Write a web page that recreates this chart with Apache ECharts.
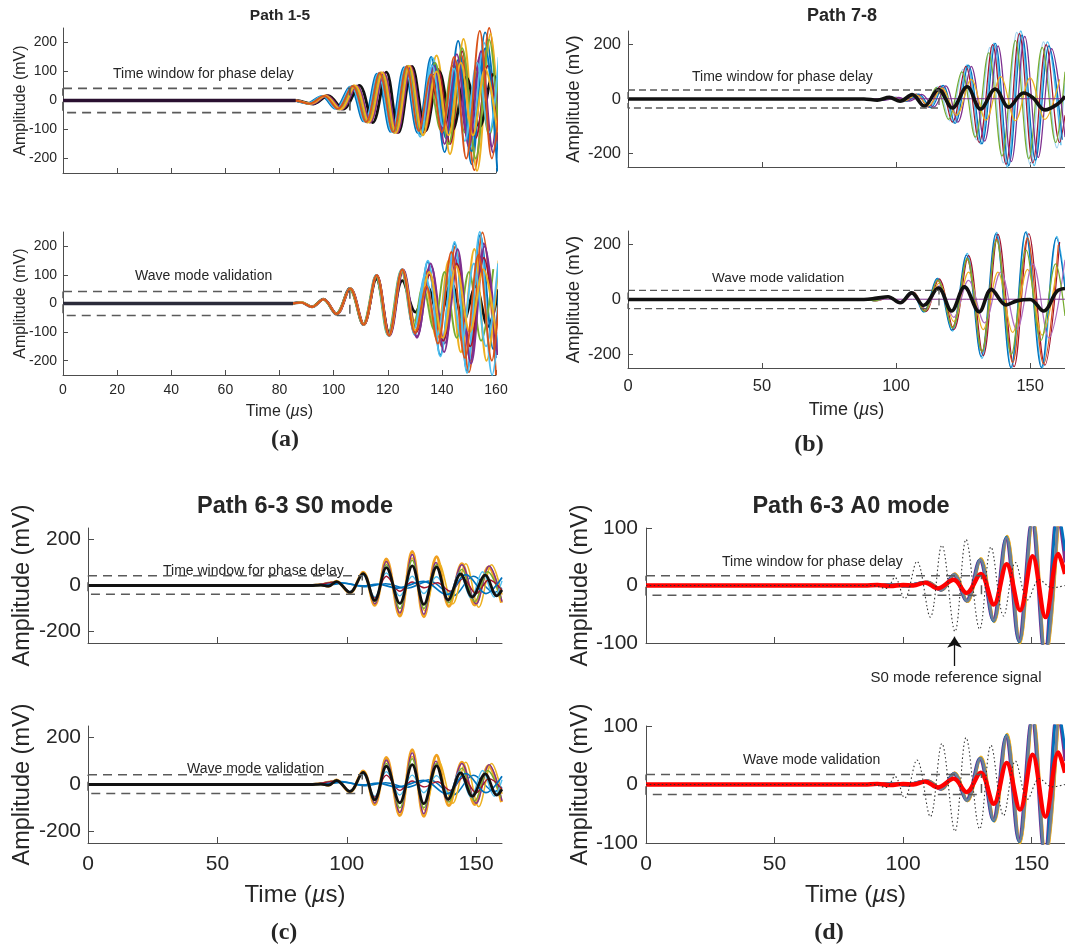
<!DOCTYPE html>
<html><head><meta charset="utf-8">
<script src="https://cdn.jsdelivr.net/npm/echarts@6/dist/echarts.min.js"></script>
<style>html,body{margin:0;padding:0;background:#fff}#c{width:1065px;height:949px}</style>
</head><body><div id="c"></div>
<script>
// ---------- tick values ----------
const xTicksA = [0,20,40,60,80,100,120,140,160];
const xTicksB = [0,50,100,150];
const yTicksA = [-200,-100,0,100,200];
const yTicksB = [-200,0,200];
const yTicksD = [-100,0,100];

// ---------- (a) Path 1-5, top: time window for phase delay ----------
const aT_base = [[0,0],[86,0]];
const aT_black = [[0,0],[86,0],[92.5,-12],[98,17],[103.5,-30],[109.5,52],[114.5,-76],[119.5,98],[124,-110],[129,118],[134,-104],[139,100],[144,-100],[149,80],[154,-90],[159,90],[161,40]];
const aT_blue = [[0,0],[85,0],[90,-10],[95.5,15],[100.5,-28],[106,48],[111,-72],[116,92],[121,-108],[126,115],[131,-112],[136,150],[141,-178],[146,205],[151,-220],[156,235],[161,-200]];
const aT_orange = [[0,0],[85.5,0],[91,-11],[96.5,16],[101.5,-30],[107,50],[112,-75],[117,96],[122,-110],[127,118],[132,-115],[137.5,120],[142,-110],[147,160],[152,-240],[157.5,250],[161,-150]];
const aT_yellow = [[0,0],[86,0],[91.5,-12],[97,17],[102,-30],[107.5,52],[112.5,-76],[117.5,97],[122.5,-112],[127.5,120],[132.5,-118],[138,155],[143,-185],[148,212],[153,-242],[158,230],[161,-100]];
const aT_purple = [[0,0],[86,0],[92,-12],[97.5,16],[102.5,-30],[108,50],[113,-74],[118,95],[123,-110],[128,116],[133,-100],[137,90],[141,-95],[145,110],[149.5,-130],[154,150],[158.5,-160],[161,60]];
const aT_green = [[0,0],[86,0],[91,-11],[96.5,16],[102,-30],[107.5,50],[112.5,-74],[117.5,94],[122.5,-108],[127.5,112],[132,-90],[135.5,60],[139.5,-100],[144,120],[148.5,-110],[153,100],[157.5,-120],[161,100]];
const aT_cyan = [[0,0],[85,0],[90.5,-10],[96,16],[101,-29],[106.5,49],[111.5,-73],[116.5,93],[121.5,-108],[126.5,114],[131.5,-110],[136.5,148],[141.5,-120],[146,100],[150.5,-160],[155.5,200],[160,-170]];
const aT_red = [[0,0],[86,0],[92,-12],[97.5,17],[103,-30],[108.5,51],[113.5,-76],[118.5,97],[123.5,-112],[128.5,118],[133.5,-112],[138.5,110],[143,-150],[147.5,170],[152.5,-130],[157,120],[161,-140]];
const aT_blue2 = [[0,0],[85,0],[91,-11],[96.5,16],[101.5,-29],[107,49],[112,-73],[117,94],[122,-108],[127,116],[132,-116],[137,130],[141.5,-130],[146,140],[151,-175],[156,180],[160.5,-245]];
const aT_orange2 = [[0,0],[86,0],[91.5,-11],[97,16],[102.5,-30],[108,51],[113,-75],[118,96],[123,-111],[128,119],[133,-120],[138,100],[142.5,-120],[147,130],[151.5,-120],[156,110],[160.5,-110]];
const aT_yellow2 = [[0,0],[85.5,0],[91,-11],[96.5,16],[101.5,-29],[107,50],[112,-74],[117,95],[122,-109],[127,117],[131.5,-105],[136,90],[140,-110],[144.5,150],[149,-200],[154,240],[158.5,-200],[161,-50]];
const aT_green2 = [[0,0],[85.5,0],[91,-11],[96.5,16],[102,-30],[107.5,50],[112.5,-75],[117.5,95],[122.5,-110],[127.5,118],[132.5,-110],[137.5,130],[142.5,-150],[147.5,180],[152.5,-200],[157.5,210],[161,-120]];
const aT_purple2 = [[0,0],[86,0],[92,-12],[97.5,16],[103,-30],[108.5,51],[113.5,-75],[118.5,96],[123.5,-110],[128.5,115],[133,-80],[137,120],[141,-150],[145.5,160],[150,-160],[154.5,170],[159,-180],[161,-60]];
const aT_cyan2 = [[0,0],[85.5,0],[91,-11],[96.5,16],[101.5,-29],[107,49],[112,-74],[117,95],[122,-110],[127,117],[132,-125],[136.5,120],[140.5,-90],[144.5,110],[148.5,-140],[153,130],[157.5,-110],[161,150]];
const aT_window = [[0,42],[106,42],[106,-42],[0,-42],[0,42]];

// ---------- (a) Path 1-5, bottom: wave mode validation ----------
const aB_base = [[0,0],[85,0]];
const aB_black = [[0,0],[84,0],[88,4],[92,-12],[96.2,15],[101,-37],[106,53],[111,-74],[115.8,85],[120.5,-100],[125.4,80],[130.2,-30],[134.5,60],[139,-50],[143.5,70],[148,-60],[152.5,60],[157,-80],[161,50]];
const aB_blue = [[0,0],[84,0],[88,4],[92,-12],[96.2,15],[101,-36],[106,52],[111,-74],[115.7,98],[120.3,-112],[125.2,118],[130,-108],[134.8,146],[139.4,-180],[144.7,210],[149.3,-236],[154.2,240],[159,-160],[161,40]];
const aB_orange = [[0,0],[84,0],[88,3],[92.2,-12],[96.4,15],[101.2,-37],[106.2,53],[111.2,-75],[116,100],[120.6,-113],[125.5,120],[130.5,-100],[135,120],[140,-150],[145,200],[150,-240],[155,248],[160,-250]];
const aB_yellow = [[0,0],[84,0],[88,4],[92,-11],[96.2,14],[101,-36],[106,52],[111,-73],[115.8,97],[120.4,-110],[125.4,115],[130,-60],[133.5,80],[138,-120],[142.5,150],[147,-170],[152,190],[156.5,-200],[161,150]];
const aB_purple = [[0,0],[84,0],[88,3],[92,-12],[96.4,15],[101.3,-37],[106.3,53],[111.3,-74],[116,99],[120.8,-112],[125.8,118],[130.8,-115],[136,130],[141,-140],[146,160],[150.5,-200],[155.5,210],[160,-190]];
const aB_green = [[0,0],[84,0],[88,3],[92,-11],[96,14],[100.8,-35],[105.8,50],[110.8,-72],[115.5,96],[120,-110],[125,116],[129.5,-80],[133,60],[137,-90],[141,110],[145.5,-120],[150,110],[154.5,-130],[159,120]];
const aB_cyan = [[0,0],[84,0],[88,4],[92.2,-12],[96.2,15],[101,-38],[106,54],[111,-75],[115.7,100],[120.3,-113],[125.2,120],[130,-110],[134.8,150],[139.4,-185],[144.7,215],[149.3,-243],[154,250],[158.6,-250],[161,-100]];
const aB_red = [[0,0],[84,0],[88,3],[92,-11],[96.3,14],[101.2,-36],[106.2,52],[111.2,-73],[116,98],[120.7,-110],[125.6,116],[130.5,-100],[135.5,100],[140.5,-130],[145.5,140],[150.5,-150],[155.5,160],[160,-130]];
const aB_yellow2 = [[0,0],[84,0],[88,4],[92,-12],[96.3,15],[101.1,-37],[106.1,53],[111.1,-74],[115.9,99],[120.5,-112],[125.5,118],[130.3,-95],[135.3,110],[140.3,-120],[145.3,130],[150.3,-100],[155.3,120],[160,-110]];
const aB_orange2 = [[0,0],[84,0],[88,3],[92,-12],[96.2,15],[101,-37],[106,53],[111,-74],[115.8,99],[120.4,-112],[125.3,119],[130.1,-105],[134.3,60],[138.5,-140],[143.5,180],[148.5,-190],[153.5,170],[158.5,-200],[161,0]];
const aB_purple2 = [[0,0],[84,0],[88,4],[92,-12],[96.3,15],[101.1,-37],[106.1,53],[111.1,-74],[115.9,99],[120.6,-112],[125.6,119],[130.8,-120],[135.8,140],[140.8,-170],[145.8,190],[150.8,-210],[155.8,200],[160.5,-180]];
const aB_cyan2 = [[0,0],[84,0],[88,3],[92,-12],[96.2,15],[101,-37],[106,53],[111,-74],[115.7,99],[120.3,-112],[125.2,119],[129.7,-90],[133.8,100],[138.3,-110],[142.8,120],[147.3,-130],[151.8,140],[156.3,-150],[160.8,140]];
const aB_window = [[0,42],[106,42],[106,-42],[0,-42],[0,42]];

// ---------- (b) Path 7-8, top ----------
const bT_black = [[0,0],[88,0],[93,-4],[97.5,6],[101.5,-8],[106,16],[110.5,-26],[115.8,35],[121,-33],[126.5,45],[131.5,-37],[137,37],[142,-30],[147.5,22],[151,5],[155.5,-40],[160,-20],[163,10]];
const bT_cyan = [[0,0],[88,0],[94.5,-4],[99.5,6],[103.5,-8],[108,18],[112.5,-31],[117,48],[121.5,-88],[126.5,125],[131.5,-165],[136.5,205],[141.5,-250],[146.5,250],[151.5,-245],[156.5,210],[161.5,-170]];
const bT_light = [[0,0],[88,0],[93,-4],[98,6],[102,-8],[106.5,18],[111,-30],[115.5,45],[120,-80],[125,110],[130,-150],[135,190],[140,-235],[145,245],[150,-240],[155,210],[160,-180],[163,60]];
const bT_red = [[0,0],[88,0],[94,-4],[99,6],[103,-8],[107.5,18],[112,-30],[116.5,47],[121,-85],[126,120],[131,-160],[136,200],[141,-240],[146,240],[151,-235],[156,200],[161,-160],[163,-60]];
const bT_blue = [[0,0],[88,0],[95,-4],[100,6],[104,-8],[108.5,18],[113,-32],[117.5,50],[122,-90],[127,125],[132,-165],[137,205],[142,-245],[147,235],[152,-225],[157,195],[162,-150]];
const bT_green = [[0,0],[88,0],[92.5,-3],[97.5,5],[101.5,-7],[106,16],[110.5,-30],[115,42],[119.5,-75],[124.5,100],[129.5,-140],[134.5,170],[139.5,-210],[144.5,215],[149.5,-220],[154.5,190],[159.5,-160],[163,100]];
const bT_purple = [[0,0],[88,0],[96,-4],[101,6],[105,-8],[109.5,17],[114,-30],[118.5,48],[123,-85],[128,120],[133,-155],[138,195],[143,-230],[148,230],[153,-215],[158,185],[163,-140]];
const bT_orange = [[0,0],[88,0],[94,-3],[99,5],[103,-7],[107.5,15],[112,-25],[117,40],[122.5,-60],[128,72],[133.5,-78],[139,82],[144.5,-80],[150,78],[155.5,-75],[161,72]];
const bT_flat = [[0,0],[110,1],[163,1]];
const bT_window = [[0,33],[116,33],[116,-33],[0,-33],[0,33]];

// ---------- (b) Path 7-8, bottom ----------
const bB_black = [[0,0],[88,0],[92.8,5],[97,10],[101.5,-12],[105.8,24],[110.2,-22],[115.8,42],[120.7,-42],[125.5,46],[131,-45],[135.5,37],[141,-20],[145,-5],[150,0],[155,-42],[160,30],[163,40]];
const bB_cyan = [[0,0],[88,0],[92.5,-4],[97,10],[101.5,-12],[106,28],[110.5,-46],[115.5,78],[121,-115],[126.5,168],[132,-215],[137.5,245],[143,-250],[148.5,248],[154.5,-250],[160,230],[163,60]];
const bB_red = [[0,0],[88,0],[93,-4],[97.5,10],[102,-12],[106.5,27],[111,-44],[116,75],[121.5,-110],[127,160],[132.5,-205],[138,238],[144,-245],[149.5,240],[155.5,-240],[161,210]];
const bB_blue = [[0,0],[88,0],[92.2,-4],[96.7,10],[101.2,-12],[105.7,27],[110.2,-45],[115.2,76],[120.7,-112],[126.2,162],[131.7,-208],[137.2,240],[142.8,-248],[148.3,245],[154.2,-248],[159.8,225],[163,40]];
const bB_orange = [[0,0],[88,0],[92.5,-4],[97,10],[101.5,-12],[106,26],[110.5,-42],[115.5,70],[121,-100],[126.5,145],[132,-190],[137.5,220],[143.5,-230],[149,225],[155,-235],[160.5,200]];
const bB_yellow = [[0,0],[88,0],[93,-4],[97.5,9],[102,-11],[106.5,24],[111,-38],[116,60],[121.5,-80],[127,100],[132.5,-110],[138,100],[143.5,-120],[149,110],[154.5,-130],[160,120]];
const bB_purple = [[0,0],[88,0],[93,-4],[97.5,9],[102,-11],[106.5,22],[111,-35],[116,50],[121.5,-65],[127,70],[133,-85],[139,100],[145,-110],[151,130],[157,-140],[163,145]];
const bB_green = [[0,0],[88,0],[92.5,-4],[97,9],[101.5,-12],[106,26],[110.5,-43],[115.5,72],[121,-105],[126.5,150],[132,-190],[137.5,215],[143,-200],[148.5,180],[154,-150],[159.5,130],[163,-60]];
const bB_flat = [[0,0],[110,1],[163,1]];
const bB_window = [[0,33],[116,33],[116,-33],[0,-33],[0,33]];

// ---------- (c) Path 6-3 S0 mode (top and bottom) ----------
const c_orange = [[0,0],[86,0],[90,3],[93,-3],[96,19],[101.2,-32],[106.3,58],[110.8,-86],[115.3,115],[120.5,-133],[125.3,148],[129.8,-136],[134.7,125],[139.5,-90],[144.5,95],[149.5,-85],[154.8,80],[159.8,-75]];
const c_yellow = [[0,0],[86,0],[96,17],[101.2,-30],[106.3,55],[110.8,-80],[115.3,100],[120.5,-115],[125.3,120],[130.2,-110],[135.5,100],[141,-80],[146,95],[151,-95],[156,90],[160,-40]];
const c_purple = [[0,0],[86,0],[96,15],[101.2,-28],[106.3,52],[110.8,-80],[115.3,105],[120.5,-120],[125.3,135],[129.8,-125],[134.5,100],[139,-70],[144.5,90],[150,-80],[155,85],[160,-70]];
const c_green = [[0,0],[86,0],[96,15],[101.2,-28],[106.3,50],[110.8,-70],[115.3,90],[120.5,-100],[125.3,110],[129.8,-100],[134.7,90],[139.5,-75],[144.5,70],[149.5,-70],[154.5,60],[159.5,-55]];
const c_cyan = [[0,0],[86,0],[96,14],[101.2,-26],[106.3,45],[110.8,-50],[115.3,55],[120.5,-45],[125.3,40],[129.8,-35],[134.7,38],[139.5,-40],[143.5,55],[148,-55],[152.5,60],[157,-50],[160,20]];
const c_red = [[0,0],[86,0],[96,15],[101.2,-28],[106.3,50],[110.8,-55],[115.3,40],[120.5,-25],[125.3,15],[130,-10],[135,12],[140,-25],[145,30],[150,-35],[155,25],[160,-20]];
const c_black = [[0,0],[86,0],[90,2],[93,-3],[96,17],[101.2,-30],[106.3,52],[110.8,-65],[115.3,78],[120.5,-78],[125.3,85],[129.8,-82],[134.7,80],[139.2,-62],[144,50],[148.5,-50],[153.5,45],[158,-45],[160,-20]];
const c_blue = [[0,0],[86,0],[92,3],[98,12],[106,-2],[112,6],[119.5,-11],[129.7,18],[138.6,-40],[146,47],[153.8,-35],[160,35]];
const c_blue2 = [[0,0],[86,0],[93,2],[99,10],[107,-5],[115,8],[123,-12],[132,20],[141,-45],[149,40],[157,-30],[160,-10]];
const c_window = [[0,42],[106,42],[106,-38],[0,-38],[0,42]];

// ---------- (d) Path 6-3 A0 mode (top and bottom) ----------
const d_blue = [[0,0],[90,0],[97,2],[101,-2],[105,3],[109.5,6],[114.8,-8],[119.8,19],[124.8,-27],[130,45],[135.2,-62],[140.2,84],[145.2,-98],[150.3,115],[155.3,-125],[160.3,130],[163,60]];
const d_yellow = [[0,0],[90,0],[97,2],[101,-2],[105.3,3],[109.8,6],[115.1,-8],[120.1,20],[125.1,-28],[130.3,47],[135.5,-63],[140.5,86],[145.5,-100],[150.6,118],[155.6,-128],[160.6,132]];
const d_purple = [[0,0],[90,0],[97,2],[101,-2],[104.8,3],[109.3,6],[114.6,-8],[119.5,18],[124.5,-26],[129.7,44],[134.9,-60],[139.9,82],[144.9,-96],[150,113],[155,-122],[160,128],[163,40]];
const d_gray = [[0,0],[90,0],[97,2],[101,-2],[105,3],[109.6,6],[114.9,-8],[119.9,19],[124.9,-27],[130.1,45],[135.3,-61],[140.3,83],[145.3,-97],[150.4,115],[155.4,-125],[160.4,130]];
const d_orange = [[0,0],[90,0],[97,2],[101,-2],[105.1,3],[109.7,6],[115,-8],[120,20],[125,-28],[130.2,46],[135.4,-62],[140.4,85],[145.4,-99],[150.5,116],[155.5,-126],[160.5,131]];
const d_mean = [[0,0],[85,0],[90,1],[95,-1],[100,1],[104,0],[108.6,5],[113.5,-5],[119.7,10],[124.7,-13],[130.2,20],[135.3,-33],[140.3,37],[145.5,-43],[150.4,51],[155.4,-55],[160.4,55],[163,20]];
const d_s0ref = [[0,0],[88,0],[93.5,-5],[96.8,14],[100.6,-23],[105.4,42],[110.6,-55],[115.1,70],[120.2,-80],[124.5,80],[129.8,-76],[134.2,67],[139.1,-53],[143.7,40],[148.5,-25],[153,10],[158,-4],[163,0]];
const d_window = [[0,17],[130.5,17],[130.5,-17],[0,-17],[0,17]];
const d_arrow = [[120,-140],[120,-89]];

// ---------- styling ----------
const FONT = '"Liberation Sans", Arial, Helvetica, sans-serif';
const AX = '#4d4d4d', TX = '#262626';
const C = {blue:'#0072BD', orange:'#D95319', yellow:'#EDB120', purple:'#7E2F8E', green:'#77AC30', cyan:'#4DBEEE', red:'#A2142F', black:'#111111'};

const grids = [
  {left:63, top:28, width:433, height:145},
  {left:63, top:232, width:433, height:143},
  {left:628, top:31, width:437, height:136},
  {left:628, top:231, width:437, height:137},
  {left:88, top:528, width:414, height:115},
  {left:88, top:726, width:414, height:117},
  {left:646, top:528, width:419, height:115},
  {left:646, top:726, width:419, height:117}
].map(g => Object.assign({containLabel:false, outerBoundsMode:'none', show:false}, g));

function xAx(g, o) {
  return {gridIndex:g, type:'value', min:0, max:o.max,
    axisLine:{show:true, onZero:false, lineStyle:{color:AX, width:1}},
    axisTick:{show:true, inside:true, length:o.tl, customValues:o.ticks, lineStyle:{color:AX, width:1}},
    axisLabel:{show:o.labels, customValues:o.ticks, fontSize:o.fs, color:TX, fontFamily:FONT, margin:o.m, showMaxLabel:true},
    splitLine:{show:false},
    name: o.labels ? 'Time ({i|µ}s)' : '', nameLocation:'middle', nameGap:o.ng, nameMoveOverlap:false,
    nameTextStyle:{fontSize:o.nfs, color:TX, fontFamily:FONT,
      rich:{i:{fontStyle:'italic', fontSize:o.nfs, color:TX, fontFamily:FONT}}}
  };
}
function yAx(g, o) {
  return {gridIndex:g, type:'value', min:o.min, max:o.max,
    axisLine:{show:true, onZero:false, lineStyle:{color:AX, width:1}},
    axisTick:{show:true, inside:true, length:o.tl, customValues:o.ticks, lineStyle:{color:AX, width:1}},
    axisLabel:{customValues:o.ticks, fontSize:o.fs, color:TX, fontFamily:FONT, margin:o.m},
    splitLine:{show:false},
    name:'Amplitude (mV)', nameLocation:'middle', nameGap:o.ng, nameMoveOverlap:false,
    nameTextStyle:{fontSize:o.nfs, color:TX, fontFamily:FONT}
  };
}

const xAxes = [
  xAx(0,{max:160, ticks:xTicksA, labels:false, fs:14, m:8, tl:5, ng:29, nfs:16}),
  xAx(1,{max:160, ticks:xTicksA, labels:true, fs:14, m:8, tl:5, ng:29, nfs:16}),
  xAx(2,{max:163, ticks:xTicksB, labels:false, fs:16.5, m:10, tl:5, ng:33, nfs:18}),
  xAx(3,{max:163, ticks:xTicksB, labels:true, fs:16.5, m:10, tl:5, ng:33, nfs:18}),
  xAx(4,{max:160, ticks:xTicksB, labels:false, fs:21, m:11, tl:6, ng:40, nfs:24}),
  xAx(5,{max:160, ticks:xTicksB, labels:true, fs:21, m:11, tl:6, ng:40, nfs:24}),
  xAx(6,{max:163, ticks:xTicksB, labels:false, fs:21, m:11, tl:6, ng:40, nfs:24}),
  xAx(7,{max:163, ticks:xTicksB, labels:true, fs:21, m:11, tl:6, ng:40, nfs:24})
];
const yAxes = [
  yAx(0,{min:-250, max:250, ticks:yTicksA, fs:14, m:6, tl:5, ng:34, nfs:16}),
  yAx(1,{min:-250, max:250, ticks:yTicksA, fs:14, m:6, tl:5, ng:34, nfs:16}),
  yAx(2,{min:-250, max:250, ticks:yTicksB, fs:16.5, m:7, tl:5, ng:45, nfs:18.5}),
  yAx(3,{min:-250, max:250, ticks:yTicksB, fs:16.5, m:7, tl:5, ng:45, nfs:18.5}),
  yAx(4,{min:-250, max:250, ticks:yTicksB, fs:21, m:7, tl:6, ng:53, nfs:23.5}),
  yAx(5,{min:-250, max:250, ticks:yTicksB, fs:21, m:7, tl:6, ng:53, nfs:23.5}),
  yAx(6,{min:-100, max:100, ticks:yTicksD, fs:21, m:8, tl:6, ng:53, nfs:23.5}),
  yAx(7,{min:-100, max:100, ticks:yTicksD, fs:21, m:8, tl:6, ng:53, nfs:23.5})
];

function ln(g, data, color, width, extra) {
  return Object.assign({type:'line', xAxisIndex:g, yAxisIndex:g, data:data, smooth:0.36,
    symbol:'none', showSymbol:false, silent:true, animation:false, clip:true,
    lineStyle:{color:color, width:width}, z:2}, extra || {});
}
function box(g, data, dash, width) {
  return {type:'line', xAxisIndex:g, yAxisIndex:g, data:data, smooth:false, symbol:'none',
    silent:true, animation:false, clip:false, z:4,
    lineStyle:{color:'#5a5a5a', width:width, type:dash}};
}

const series = [];
// (a) top
[[aT_blue,C.blue,1.9],[aT_orange,C.orange,1.9],[aT_yellow,C.yellow,2.1],[aT_purple,C.purple,1.9],[aT_black,C.black,2.8],
 [aT_green,C.green,1.9],[aT_cyan,C.cyan,1.9],[aT_red,C.red,1.9],[aT_blue2,C.blue,1.9],[aT_green2,C.green,1.9],
 [aT_purple2,C.purple,1.9],[aT_cyan2,C.cyan,1.9],[aT_orange2,C.yellow,2.1],[aT_yellow2,C.orange,1.9]]
 .forEach(s => series.push(ln(0, s[0], s[1], s[2])));
series.push(ln(0, aT_base, '#2a1030', 3.4));
series.push(box(0, aT_window, [9,6], 1.8));
// (a) bottom
[[aB_black,C.black,2.8],[aB_blue,C.blue,1.9],[aB_orange,C.orange,1.9],[aB_yellow,C.yellow,2.1],[aB_purple,C.purple,1.9],
 [aB_green,C.green,1.9],[aB_cyan,C.cyan,1.9],[aB_red,C.red,1.9],[aB_purple2,C.purple,1.9],[aB_cyan2,C.cyan,1.9],
 [aB_yellow2,C.yellow,2.1],[aB_orange2,C.orange,1.9]]
 .forEach(s => series.push(ln(1, s[0], s[1], s[2])));
series.push(ln(1, aB_base, '#2b2b3a', 3.6));
series.push(box(1, aB_window, [9,6], 1.5));
// (b) top
[[bT_cyan,C.cyan,1.3],[bT_light,'#9fd3f0',1.3],[bT_red,C.red,1.2],[bT_blue,C.blue,1.2],[bT_green,C.green,1.2],
 [bT_purple,C.purple,1.2],[bT_orange,C.yellow,1.2],[bT_flat,C.purple,1.0],[bT_black,C.black,3.6]]
 .forEach(s => series.push(ln(2, s[0], s[1], s[2])));
series.push(box(2, bT_window, [7,4], 1.3));
// (b) bottom
[[bB_cyan,C.cyan,1.3],[bB_red,C.red,1.2],[bB_blue,C.blue,1.2],[bB_orange,C.orange,1.2],[bB_yellow,C.yellow,1.2],
 [bB_purple,'#b06ec0',1.2],[bB_green,C.green,1.2],[bB_flat,C.purple,1.0],[bB_black,C.black,3.6]]
 .forEach(s => series.push(ln(3, s[0], s[1], s[2])));
series.push(box(3, bB_window, [7,4], 1.3));
// (c) top & bottom
[4,5].forEach(g => {
  [[c_blue2,C.blue,1.5],[c_orange,'#f0a020',3.0],[c_yellow,C.yellow,1.5],[c_purple,C.purple,1.4],[c_green,C.green,1.4],
   [c_cyan,C.cyan,1.4],[c_red,C.red,1.4],[c_blue,C.blue,1.7],[c_black,C.black,2.8]]
   .forEach(s => series.push(ln(g, s[0], s[1], s[2])));
  series.push(box(g, c_window, [9,6], 1.5));
});
// (d) top & bottom
[6,7].forEach(g => {
  [[d_orange,C.orange,2.8],[d_yellow,C.yellow,2.8],[d_purple,C.purple,2.8],[d_blue,C.blue,2.8],[d_gray,'#6f7f95',2.6],
   [d_mean,'#ff0000',4.4]]
   .forEach(s => series.push(ln(g, s[0], s[1], s[2])));
  series.push(ln(g, d_s0ref, '#333333', 1.1, {lineStyle:{color:'#333333', width:1.1, type:[1.5,2.5]}, z:3}));
  series.push(box(g, d_window, [9,6], 1.5));
});
series.push({type:'lines', coordinateSystem:'cartesian2d', xAxisIndex:6, yAxisIndex:6, clip:false, silent:true, animation:false,
  symbol:['none','arrow'], symbolSize:[0,11], z:5,
  lineStyle:{color:'#111', width:1.3, opacity:1}, data:[{coords:d_arrow}]});

function txt(x, y, text, size, opts) {
  const o = Object.assign({align:'left', weight:'normal', family:FONT}, opts || {});
  return {type:'text', x:x, y:y, silent:true, z:10,
    style:{text:text, font: o.weight + ' ' + size + 'px ' + o.family, fill:TX,
      align:o.align, verticalAlign:'middle', textAlign:o.align, textVerticalAlign:'middle'}};
}
const SERIF = '"Liberation Serif", "Times New Roman", serif';
const graphics = [
  txt(280, 16, 'Path 1-5', 15.5, {align:'center', weight:'bold'}),
  txt(842, 16, 'Path 7-8', 18, {align:'center', weight:'bold'}),
  txt(295, 507, 'Path 6-3 S0 mode', 23.5, {align:'center', weight:'bold'}),
  txt(851, 507, 'Path 6-3 A0 mode', 23.5, {align:'center', weight:'bold'}),
  txt(113, 74, 'Time window for phase delay', 14),
  txt(135, 276, 'Wave mode validation', 14),
  txt(692, 77, 'Time window for phase delay', 14),
  txt(712, 278, 'Wave mode validation', 13.5),
  txt(163, 571, 'Time window for phase delay', 14),
  txt(187, 769, 'Wave mode validation', 14),
  txt(722, 562, 'Time window for phase delay', 14),
  txt(743, 760, 'Wave mode validation', 14),
  txt(956, 678, 'S0 mode reference signal', 15, {align:'center'}),
  txt(285, 440, '(a)', 24, {align:'center', weight:'bold', family:SERIF}),
  txt(809, 445, '(b)', 24, {align:'center', weight:'bold', family:SERIF}),
  txt(284, 933, '(c)', 24, {align:'center', weight:'bold', family:SERIF}),
  txt(829, 933, '(d)', 24, {align:'center', weight:'bold', family:SERIF})
];

const chart = echarts.init(document.getElementById('c'), null, {renderer:'canvas'});
chart.setOption({
  animation:false,
  backgroundColor:'#ffffff',
  grid:grids, xAxis:xAxes, yAxis:yAxes, series:series, graphic:graphics
});
</script>
</body></html>
